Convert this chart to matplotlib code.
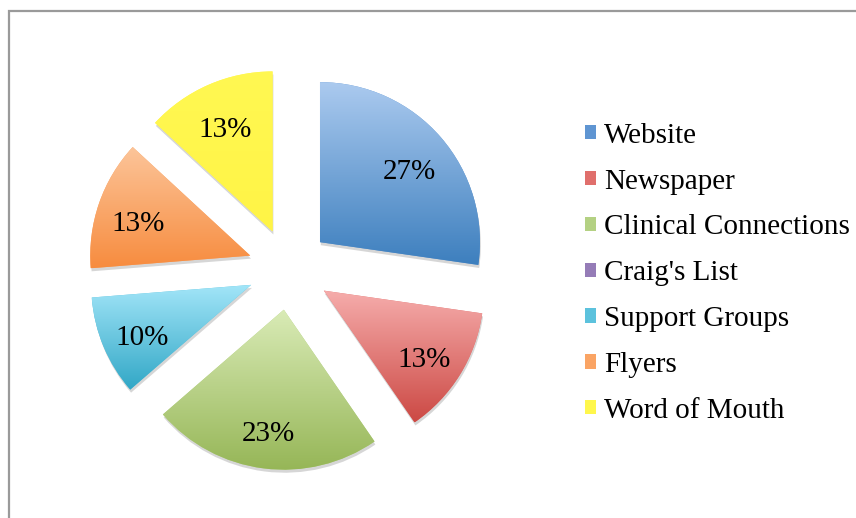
import numpy as np
import matplotlib.pyplot as plt
from matplotlib.patches import Rectangle
from matplotlib.colors import LinearSegmentedColormap

# how respondents heard about the study (percent)
sources = ['Website', 'Newspaper', 'Clinical Connections', "Craig's List",
           'Support Groups', 'Flyers', 'Word of Mouth']
share = [27, 13, 23, 0, 10, 13, 13]

# slice fill: flat colour for the legend, gradient stops (top -> bottom) for the pie
flat_colors = ['#5f95d2', '#e06f6c', '#b4d183', '#957cb7', '#5cc2dd', '#faa464', '#fff74c']
top_colors = ['#abcaef', '#f6adac', '#d9ebb6', '#bba8d4', '#a2e5f8', '#fcc59a', '#fff852']
bottom_colors = ['#3d7fbe', '#cc4944', '#96b657', '#7a5c9d', '#31a7c6', '#f78c3f', '#fff446']

FONT = 'Liberation Serif'

fig = plt.figure(figsize=(8.56, 5.18), dpi=100)
ax = fig.add_axes([0, 0, 1, 1])

wedges, _, pcts = ax.pie(
    share, explode=[41] * len(share), center=(289, 249), radius=160,
    startangle=90, counterclock=False, colors=flat_colors,
    autopct=lambda p: f'{p:.0f}%' if p > 0 else '', pctdistance=0.74,
    wedgeprops=dict(linewidth=0),
    shadow=dict(ox=0.6, oy=-2.2, facecolor='#8c8c8c', edgecolor='none', alpha=0.35),
    textprops=dict(fontsize=21, family=FONT, color='black'))

# labels sit a little below the slice midline
for t in pcts:
    x, y = t.get_position()
    t.set_position((x, y - 7))

# vertical gradient inside every slice
grad = np.linspace(0, 1, 256).reshape(-1, 1)
for w, c_top, c_bot in zip(wedges, top_colors, bottom_colors):
    if w.theta1 == w.theta2:
        continue
    bb = w.get_path().get_extents()
    cmap = LinearSegmentedColormap.from_list('slice', [c_bot, c_top])
    im = ax.imshow(grad, cmap=cmap, origin='lower', aspect='auto',
                   extent=(bb.x0, bb.x1, bb.y0, bb.y1),
                   interpolation='bilinear', zorder=w.get_zorder() + 0.1)
    im.set_clip_path(w)

ax.set_xlim(0, 856)
ax.set_ylim(0, 518)
ax.set_aspect('equal')
ax.axis('off')

ax.legend(wedges, sources, loc='upper left', bbox_to_anchor=(0.683, 0.763),
          bbox_transform=fig.transFigure, frameon=False, borderpad=0,
          borderaxespad=0, handlelength=0.38, handleheight=0.38,
          handletextpad=0.28, labelspacing=0.68,
          prop=dict(family=FONT, size=21))

# chart area border
ax.add_patch(Rectangle((9, -20), 1000, 527, fill=False, edgecolor='#9a9a9a',
                       linewidth=1.6, clip_on=False))

fig.savefig('out.png', dpi=100)
